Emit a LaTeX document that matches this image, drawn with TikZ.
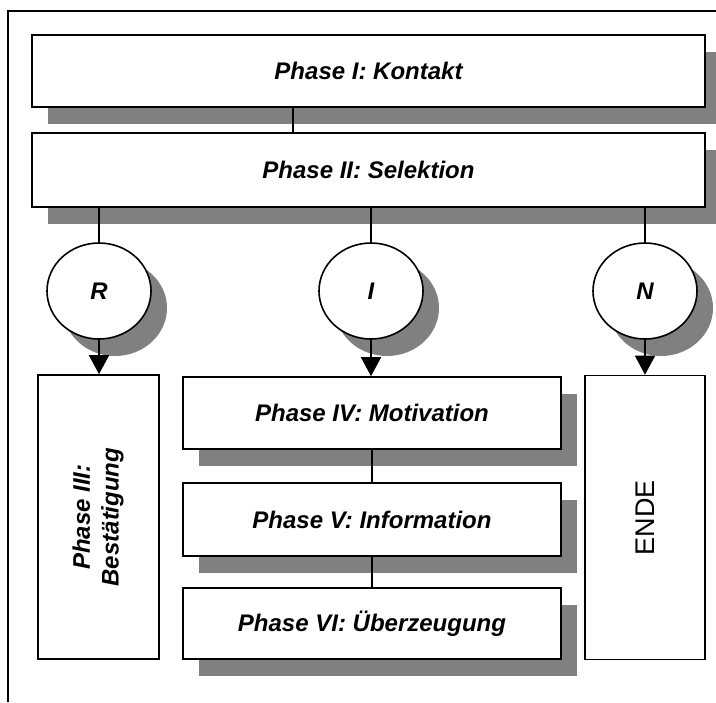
\documentclass[tikz,border=0pt]{standalone}
\usepackage{fontspec}
\usepackage{graphicx}
\setmainfont{Liberation Sans}
\usetikzlibrary{shapes.geometric,shadows,arrows.meta}
\newcommand\phasefont{\fontsize{12}{14.4}\selectfont\bfseries\itshape}
\begin{document}
\begin{tikzpicture}[x=0.5pt, y=-0.5pt, line width=0.8pt,
    boxshadow/.style={drop shadow={shadow xshift=8pt, shadow yshift=-8.5pt, fill=gray, opacity=1}},
    phasebox/.style={rectangle, draw, fill=white, inner sep=0pt, font=\phasefont, boxshadow},
    bubble/.style={ellipse, draw, fill=white, inner sep=0pt, minimum width=52pt, minimum height=48pt, font=\phasefont, boxshadow},
    plainbox/.style={rectangle, draw, fill=white, inner sep=0pt, minimum width=60.5pt, minimum height=142pt},
    downarrow/.style={-{Triangle[width=10pt,length=9.5pt]}}]
  \useasboundingbox (0,0) rectangle (716,702);
  \draw[line width=1pt] (8,702) -- (8,11) -- (716,11);

  \node[phasebox, minimum width=336.5pt, minimum height=36pt] (P1) at (368.5,71) {Phase I: Kontakt};
  \node[phasebox, minimum width=336.5pt, minimum height=37pt] (P2) at (368.5,170) {Phase II: Selektion};
  \draw ([xshift=-37.75pt]P1.south) -- ([xshift=-37.75pt]P2.north);

  \node[bubble] (R) at (99,291) {R};
  \node[bubble] (I) at (371,291) {I};
  \node[bubble] (N) at (645,291) {N};
  \foreach \b in {R,I,N}
    \draw (P2.south -| \b.north) -- (\b.north);

  \node[plainbox, font=\phasefont] (P3) at (98.5,517)
    {\rotatebox{90}{\begin{tabular}{@{}c@{}}Phase III:\\Bestätigung\end{tabular}}};
  \node[plainbox, minimum width=60pt, font=\fontsize{13.5}{16}\selectfont] (END) at (645,517.5)
    {\rotatebox{90}{ENDE}};

  \node[phasebox, minimum width=189pt, minimum height=36pt] (P4) at (372,413) {Phase IV: Motivation};
  \node[phasebox, minimum width=189pt, minimum height=36.5pt] (P5) at (372,519.5) {Phase V: Information};
  \node[phasebox, minimum width=189pt, minimum height=35.5pt] (P6) at (372,623.5) {Phase VI: Überzeugung};
  \draw (P4) -- (P5);
  \draw (P5) -- (P6);

  \draw[downarrow] (R.south) -- (R.south |- P3.north);
  \draw[downarrow] (I.south) -- (I.south |- P4.north);
  \draw[downarrow] (N.south) -- (N.south |- END.north);
\end{tikzpicture}
\end{document}
